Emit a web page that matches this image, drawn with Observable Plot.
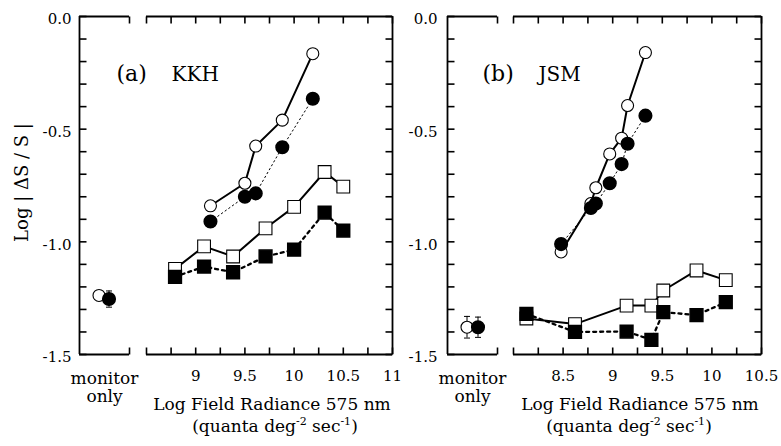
<!DOCTYPE html>
<html>
<head>
<meta charset="utf-8">
<script src="https://cdn.jsdelivr.net/npm/d3@7"></script>
<script src="https://cdn.jsdelivr.net/npm/@observablehq/plot@0.6"></script>
<style>
  html, body { margin: 0; padding: 0; background: #fff; }
  #root { position: relative; width: 781px; height: 446px; overflow: hidden; background: #fff; }
  #root svg { position: absolute; top: 0; }
</style>
</head>
<body>
<div id="root"></div>
<script>
// ---------- axes / ticks ----------
const yDomain = [-1.5, 0];
const yLabelTicks = [0, -0.5, -1.0, -1.5];
const yMinorTicks = [0, -0.1, -0.2, -0.3, -0.4, -0.5, -0.6, -0.7, -0.8, -0.9, -1.0, -1.1, -1.2, -1.3, -1.4, -1.5];

const aXDomain = [8.5, 11];
const aXMinorTicks = [8.5, 8.75, 9, 9.25, 9.5, 9.75, 10, 10.25, 10.5, 10.75, 11];
const aXLabelTicks = [9, 9.5, 10, 10.5, 11];

const bXDomain = [8, 10.5];
const bXMinorTicks = [8, 8.25, 8.5, 8.75, 9, 9.25, 9.5, 9.75, 10, 10.25, 10.5];
const bXLabelTicks = [8.5, 9, 9.5, 10, 10.5];

// ---------- panel (a) KKH ----------
const aCircX      = [9.15, 9.50, 9.61, 9.88, 10.19];
const aOpenCircY  = [-0.84, -0.74, -0.575, -0.46, -0.165];
const aFillCircY  = [-0.91, -0.80, -0.785, -0.58, -0.365];
const aSqX        = [8.79, 9.085, 9.38, 9.71, 10.0, 10.31, 10.5];
const aOpenSqY    = [-1.12, -1.02, -1.065, -0.94, -0.845, -0.69, -0.755];
const aFillSqY    = [-1.155, -1.11, -1.135, -1.065, -1.035, -0.87, -0.95];

// ---------- panel (b) JSM ----------
const bCircX      = [8.48, 8.78, 8.83, 8.97, 9.09, 9.15, 9.33];
const bOpenCircY  = [-1.045, -0.83, -0.76, -0.61, -0.54, -0.395, -0.16];
const bFillCircY  = [-1.01, -0.85, -0.83, -0.74, -0.655, -0.565, -0.44];
const bSqX        = [8.13, 8.62, 9.14, 9.39, 9.51, 9.845, 10.14];
const bOpenSqY    = [-1.34, -1.365, -1.283, -1.283, -1.216, -1.127, -1.17];
const bFillSqY    = [-1.32, -1.40, -1.398, -1.435, -1.312, -1.325, -1.268];

// ---------- monitor only ----------
const monitorKind = ["open", "filled"];
const aMonitorX   = [0.39, 0.59];
const aMonitorY   = [-1.238, -1.254];
const aMonitorErr = [0.01, 0.036];
const bMonitorX   = [0.39, 0.61];
const bMonitorY   = [-1.379, -1.379];
const bMonitorErr = [0.048, 0.045];

// ---------- text ----------
const yTitle = "Log | \u0394S / S |";
const monitorLabel = "monitor\nonly";
const xTitle = "Log Field Radiance 575 nm";
const unitParts = ["(quanta deg", "-2", " sec", "-1", ")"];
const panelLetters = ["(a)", "(b)"];
const subjects = ["KKH", "JSM"];

const FONT = "'DejaVu Serif', serif";
const zip = (xs, ys) => xs.map((x, i) => ({x, y: ys[i]}));
const root = document.getElementById("root");
const baseStyle = {background: "transparent", overflow: "visible", fontFamily: FONT, fontSize: "15px", color: "black"};
const H = 446, MT = 16, MB = 92, FRAME_H = H - MT - MB, TICK = 7, TICK_W = 1.6;

// inward tick marks as short links; pixel length converted to data units of each scale
function tickMarks(xDomain, frameW, xTicks, yTickSide) {
  const ySpan = yDomain[1] - yDomain[0], xSpan = xDomain[1] - xDomain[0];
  const dy = TICK * ySpan / FRAME_H, dx = TICK * xSpan / frameW;
  const st = {stroke: "black", strokeWidth: TICK_W};
  const marks = [];
  if (xTicks) {
    marks.push(Plot.link(xTicks, {x1: d => d, x2: d => d, y1: () => yDomain[1], y2: () => yDomain[1] - dy, ...st}));
    marks.push(Plot.link(xTicks, {x1: d => d, x2: d => d, y1: () => yDomain[0], y2: () => yDomain[0] + dy, ...st}));
  }
  if (yTickSide === "left")
    marks.push(Plot.link(yMinorTicks, {x1: () => xDomain[0], x2: () => xDomain[0] + dx, y1: d => d, y2: d => d, ...st}));
  if (yTickSide === "right")
    marks.push(Plot.link(yMinorTicks, {x1: () => xDomain[1], x2: () => xDomain[1] - dx, y1: d => d, y2: d => d, ...st}));
  return marks;
}

function monitorPanel(o) {
  const frameW = o.width - o.ml - o.mr;
  const mon = monitorKind.map((k, i) => ({kind: k, x: o.x[i], y: o.y[i], lo: o.y[i] - o.err[i], hi: o.y[i] + o.err[i]}));
  const marks = [
    Plot.ruleX([0], {strokeWidth: 1.8}),
    Plot.ruleY(yDomain, {strokeWidth: 1.8}),
    ...tickMarks([0, 1], frameW, [1], "left"),
    Plot.axisY({anchor: "left", ticks: yLabelTicks, tickSize: 0, tickPadding: o.pad, tickFormat: d => d.toFixed(1), label: null, fontSize: 15, dy: 3}),
    Plot.text([monitorLabel], {frameAnchor: "bottom", lineAnchor: "top", dy: 16, fontSize: 17, lineHeight: 1.08}),
    Plot.ruleX(mon, {x: "x", y1: "lo", y2: "hi", strokeWidth: 1}),
    Plot.link(mon, {x1: d => d.x - 0.06, x2: d => d.x + 0.06, y1: "lo", y2: "lo", strokeWidth: 1}),
    Plot.link(mon, {x1: d => d.x - 0.06, x2: d => d.x + 0.06, y1: "hi", y2: "hi", strokeWidth: 1}),
    Plot.dot(mon.filter(d => d.kind === "open"), {x: "x", y: "y", r: 6, fill: "white", stroke: "black", strokeWidth: 1.1}),
    Plot.dot(mon.filter(d => d.kind === "filled"), {x: "x", y: "y", r: 6.3, fill: "black", stroke: "black"})
  ];
  if (o.yTitle) marks.push(Plot.text([o.yTitle], {frameAnchor: "left", textAnchor: "middle", lineAnchor: "middle", rotate: -90, dx: -57, dy: -3, fontSize: 18}));
  const p = Plot.plot({
    width: o.width, height: H, marginLeft: o.ml, marginRight: o.mr, marginTop: MT, marginBottom: MB,
    style: baseStyle,
    x: {domain: [0, 1], axis: null},
    y: {domain: yDomain, axis: null},
    marks
  });
  p.style.left = o.left + "px";
  return p;
}

function mainPanel(o) {
  const frameW = o.width - o.ml - o.mr;
  const openC = zip(o.circX, o.openCircY), fillC = zip(o.circX, o.fillCircY);
  const openS = zip(o.sqX, o.openSqY), fillS = zip(o.sqX, o.fillSqY);
  const p = Plot.plot({
    width: o.width, height: H, marginLeft: o.ml, marginRight: o.mr, marginTop: MT, marginBottom: MB,
    style: baseStyle,
    x: {domain: o.xDomain, axis: null},
    y: {domain: yDomain, axis: null},
    marks: [
      Plot.ruleY(yDomain, {strokeWidth: 1.8}),
      Plot.ruleX([o.xDomain[1]], {strokeWidth: 1.8}),
      ...tickMarks(o.xDomain, frameW, o.minorX, "right"),
      Plot.axisX({anchor: "bottom", ticks: o.labelX, tickSize: 0, tickPadding: 16, tickFormat: d => String(d), label: null, fontSize: 15}),
      Plot.text([o.letter], {frameAnchor: "top-left", textAnchor: "start", lineAnchor: "middle", dx: o.letterDx, dy: 57, fontSize: 22}),
      Plot.text([o.subject], {frameAnchor: "top-left", textAnchor: "start", lineAnchor: "middle", dx: 25, dy: 58, fontSize: 20}),
      Plot.line(openC, {x: "x", y: "y", strokeWidth: 2}),
      Plot.line(fillC, {x: "x", y: "y", strokeWidth: 1, strokeDasharray: "1.5,3"}),
      Plot.line(openS, {x: "x", y: "y", strokeWidth: 2}),
      Plot.line(fillS, {x: "x", y: "y", strokeWidth: 2.3, strokeDasharray: "3,4"}),
      Plot.dot(openC, {x: "x", y: "y", r: 6, fill: "white", stroke: "black", strokeWidth: 1.1}),
      Plot.dot(openS, {x: "x", y: "y", symbol: "square", r: 7.2, fill: "white", stroke: "black", strokeWidth: 1.1}),
      Plot.dot(fillC, {x: "x", y: "y", r: 6.3, fill: "black", stroke: "black"}),
      Plot.dot(fillS, {x: "x", y: "y", symbol: "square", r: 7.2, fill: "black", stroke: "black"})
    ]
  });
  p.style.left = o.left + "px";
  const svg = d3.select(p);
  svg.append("text").attr("x", o.titleX).attr("y", 410).attr("text-anchor", "middle")
    .attr("font-family", FONT).attr("font-size", 17).attr("fill", "black").text(xTitle);
  const t = svg.append("text").attr("x", o.unitX).attr("y", 432).attr("text-anchor", "middle")
    .attr("font-family", FONT).attr("font-size", 17).attr("fill", "black");
  t.append("tspan").text(unitParts[0]);
  t.append("tspan").attr("dy", -7).attr("font-size", 11).text(unitParts[1]);
  t.append("tspan").attr("dy", 7).text(unitParts[2]);
  t.append("tspan").attr("dy", -7).attr("font-size", 11).text(unitParts[3]);
  t.append("tspan").attr("dy", 7).text(unitParts[4]);
  return p;
}

root.append(monitorPanel({left: 0, width: 140, ml: 79, mr: 11, pad: 8, x: aMonitorX, y: aMonitorY, err: aMonitorErr, yTitle}));
root.append(mainPanel({left: 130, width: 270, ml: 16, mr: 8, xDomain: aXDomain, minorX: aXMinorTicks, labelX: aXLabelTicks,
  circX: aCircX, openCircY: aOpenCircY, fillCircY: aFillCircY, sqX: aSqX, openSqY: aOpenSqY, fillSqY: aFillSqY,
  letter: panelLetters[0], subject: subjects[0], letterDx: -30, titleX: 142, unitX: 145}));
root.append(monitorPanel({left: 395, width: 113, ml: 52, mr: 11, pad: 10, x: bMonitorX, y: bMonitorY, err: bMonitorErr}));
root.append(mainPanel({left: 497, width: 284, ml: 16, mr: 20, xDomain: bXDomain, minorX: bXMinorTicks, labelX: bXLabelTicks,
  circX: bCircX, openCircY: bOpenCircY, fillCircY: bFillCircY, sqX: bSqX, openSqY: bOpenSqY, fillSqY: bFillSqY,
  letter: panelLetters[1], subject: subjects[1], letterDx: -31, titleX: 143, unitX: 132}));
</script>
</body>
</html>
